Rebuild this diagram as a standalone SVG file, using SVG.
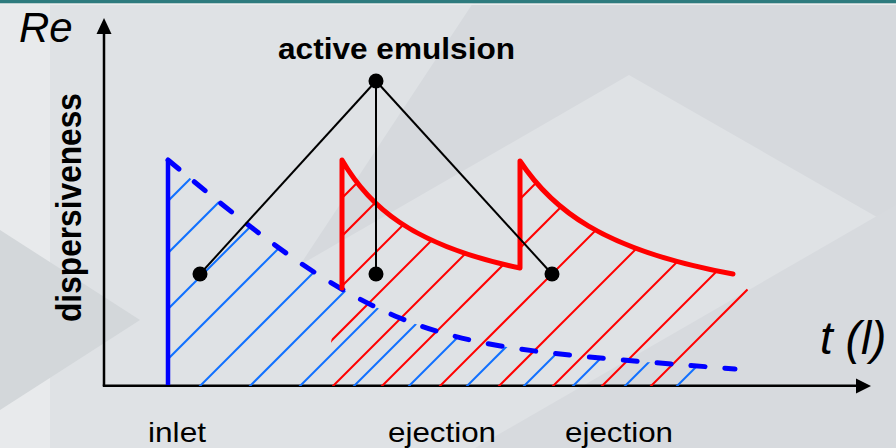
<svg xmlns="http://www.w3.org/2000/svg" width="896" height="448" viewBox="0 0 896 448">
  <defs>
    <style>
      .bold { font-family: "Liberation Sans", Arial, sans-serif; font-weight: bold; fill: #000; }
      .reg { font-family: "Liberation Sans", Arial, sans-serif; fill: #000; }
      .ital { font-family: "Liberation Sans", Arial, sans-serif; font-style: italic; fill: #000; }
      .axis { stroke: #000; stroke-width: 2.5; fill: none; }
      .bhatch line { stroke: #1070ff; stroke-width: 2; }
      .rhatch line { stroke: #ff0000; stroke-width: 2; }
      .conn { stroke: #000; stroke-width: 2; fill: none; }
      .dot { fill: #000; }
    </style>
    <clipPath id="blueClip">
      <path d="M168,160 C250,228 320,285 400,318 S560,355 735,369 L735,386 L168,386 Z"/>
    </clipPath>
    <clipPath id="redClip">
      <path d="M342,160 C368,205 410,245 520,268 L520,161 C551,208 601,250 733,274 L748,290 L760,386 L332,386 L331,342 L342,288 Z"/>
    </clipPath>
  </defs>

  <!-- background -->
  <g id="background">
    <rect x="0" y="0" width="896" height="448" fill="#dfe2e5"/>
    <polygon points="0,0 50,0 50,448 0,448" fill="#e8eaec"/>
    <polygon points="475,0 896,0 896,228 629,75 300,265" fill="#d6d9dd"/>
    <polygon points="896,205 896,448 475,448" fill="#d7dade"/>
    <polygon points="0,230 140,320 0,410" fill="#d3d7da"/>
    <rect x="0" y="0" width="896" height="3.5" fill="#2e7b7e"/>
    <rect x="0" y="3.5" width="896" height="1.5" fill="#eceeee"/>
  </g>

  <!-- axes -->
  <g id="axes">
    <line class="axis" x1="104" y1="386" x2="104" y2="30"/>
    <polygon points="104,18 96.5,34 111.5,34" fill="#000"/>
    <line class="axis" x1="102.8" y1="385.8" x2="860" y2="385.8"/>
    <polygon points="871,386 856,378.5 856,393.5" fill="#000"/>
  </g>

  <!-- blue hatching -->
  <g id="blue-hatch" class="bhatch" clip-path="url(#blueClip)">
    <line x1="-21" y1="390" x2="229" y2="140"/>
    <line x1="31" y1="390" x2="281" y2="140"/>
    <line x1="87" y1="390" x2="337" y2="140"/>
    <line x1="137" y1="390" x2="387" y2="140"/>
    <line x1="196" y1="390" x2="446" y2="140"/>
    <line x1="246" y1="390" x2="496" y2="140"/>
    <line x1="296" y1="390" x2="546" y2="140"/>
    <line x1="350" y1="390" x2="600" y2="140"/>
    <line x1="405" y1="390" x2="655" y2="140"/>
    <line x1="463" y1="390" x2="713" y2="140"/>
    <line x1="520" y1="390" x2="770" y2="140"/>
    <line x1="569" y1="390" x2="819" y2="140"/>
    <line x1="621" y1="390" x2="871" y2="140"/>
    <line x1="673" y1="390" x2="923" y2="140"/>
  </g>

  <!-- red hatching -->
  <g id="red-hatch" class="rhatch" clip-path="url(#redClip)">
    <line x1="150" y1="390" x2="400" y2="140"/>
    <line x1="188" y1="390" x2="438" y2="140"/>
    <line x1="238" y1="390" x2="488" y2="140"/>
    <line x1="282" y1="390" x2="532" y2="140"/>
    <line x1="329" y1="390" x2="579" y2="140"/>
    <line x1="378" y1="390" x2="628" y2="140"/>
    <line x1="436" y1="390" x2="686" y2="140"/>
    <line x1="495" y1="390" x2="745" y2="140"/>
    <line x1="549" y1="390" x2="799" y2="140"/>
    <line x1="598" y1="390" x2="848" y2="140"/>
    <line x1="647" y1="390" x2="897" y2="140"/>
  </g>

  <!-- blue inlet curve -->
  <g id="inlet-curve">
    <line x1="168" y1="160" x2="168" y2="385" stroke="#0000ff" stroke-width="4.5"/>
    <path d="M168,160 C250,228 320,285 400,318 S560,355 735,369" fill="none" stroke="#0000ff" stroke-width="5" stroke-linecap="round" stroke-dasharray="14 20"/>
  </g>

  <!-- red ejection curves -->
  <g id="ejection-curves">
    <path d="M342,288 L342,160 C368,205 410,245 520,268 L520,161 C551,208 601,250 733,274" fill="none" stroke="#ff0000" stroke-width="5" stroke-linejoin="round" stroke-linecap="round"/>
  </g>

  <!-- connectors -->
  <g id="connectors">
    <line class="conn" x1="376" y1="81" x2="200" y2="274"/>
    <line class="conn" x1="376" y1="81" x2="376" y2="274"/>
    <line class="conn" x1="376" y1="81" x2="552" y2="274"/>
  </g>

  <!-- nodes -->
  <g id="node-active-emulsion">
    <circle class="dot" cx="376" cy="81" r="7.5"/>
    <text class="bold" x="278" y="59" font-size="30" textLength="237" lengthAdjust="spacingAndGlyphs">active emulsion</text>
  </g>
  <g id="node-dot-1"><circle class="dot" cx="200" cy="274" r="7.5"/></g>
  <g id="node-dot-2"><circle class="dot" cx="376" cy="274" r="7.5"/></g>
  <g id="node-dot-3"><circle class="dot" cx="552" cy="274" r="7.5"/></g>

  <!-- labels -->
  <g id="labels">
    <text class="ital" x="19" y="42" font-size="42">Re</text>
    <text class="ital" x="820" y="354" font-size="46">t (l)</text>
    <text class="bold" transform="translate(81,207.5) scale(1.12,1) rotate(-90)" text-anchor="middle" font-size="31" textLength="229" lengthAdjust="spacingAndGlyphs">dispersiveness</text>
    <text class="reg" x="148" y="442" font-size="28" textLength="58" lengthAdjust="spacingAndGlyphs">inlet</text>
    <text class="reg" x="388" y="442" font-size="28" textLength="108" lengthAdjust="spacingAndGlyphs">ejection</text>
    <text class="reg" x="565" y="442" font-size="28" textLength="108" lengthAdjust="spacingAndGlyphs">ejection</text>
  </g>
</svg>
